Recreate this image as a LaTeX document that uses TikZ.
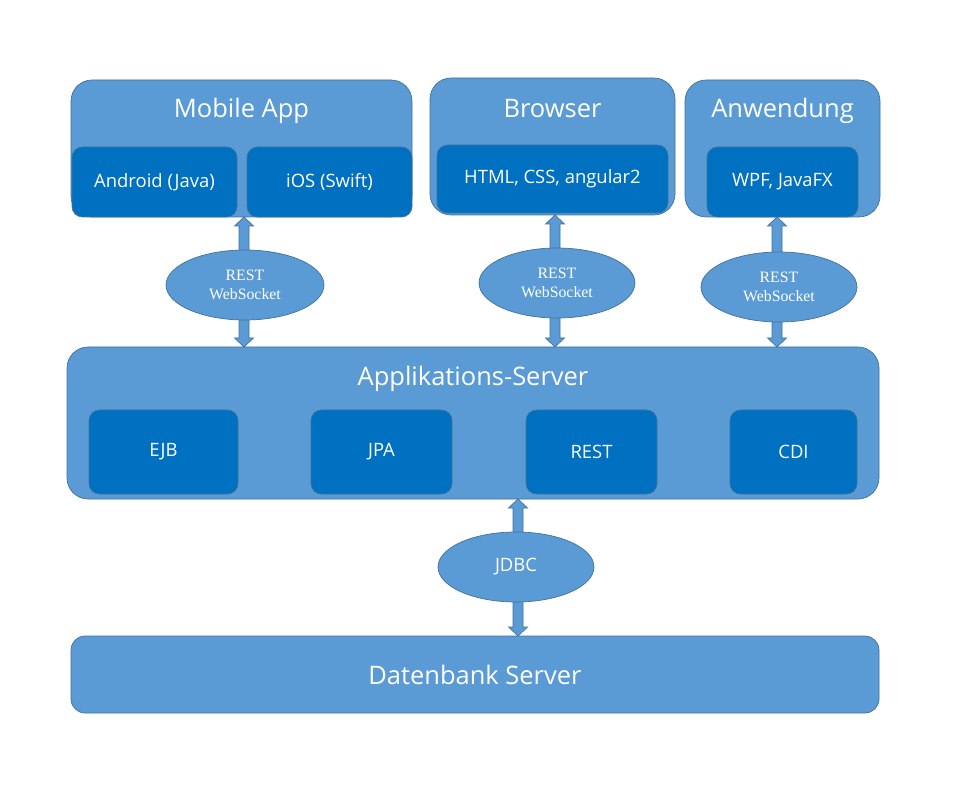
\documentclass[tikz,border=0pt]{standalone}
\usepackage{fontspec}
\setmainfont{Open Sans}
\newfontfamily\ellfont{Liberation Serif}
\usetikzlibrary{positioning}
\definecolor{light}{HTML}{5B9BD5}
\definecolor{dark}{HTML}{0070C0}
\definecolor{edge}{HTML}{41719C}
\tikzset{
	outer/.style={draw=edge, fill=light, rounded corners=12pt, inner sep=0pt},
	inner/.style={draw=edge, fill=dark, rounded corners=6pt, inner sep=0pt, text=white, font=\fontsize{10.5}{12}\selectfont},
	title/.style={text=white, font=\fontsize{14.5}{16}\selectfont},
	proto/.style={ellipse, draw=edge, fill=light, text=white, align=center, inner sep=0pt, font=\ellfont\fontsize{9}{10.5}\selectfont},
	fat/.style={fill=light, draw=edge}
}
% double arrow from (#1) up to (#2), both coordinates on one vertical
\newcommand{\fatarrow}[2]{
	\fill[fat] ($(#1)$) -- ++(-9.5,-9) -- ++(4.5,0) |- ($(#2)+(-5,9)$) -- ++(-4.5,0) -- (#2) -- ++(9.5,9) -- ++(-4.5,0) |- ($(#1)+(5,-9)$) -- ++(4.5,0) -- cycle;
}
\usetikzlibrary{calc,shapes.geometric}
\begin{document}
\begin{tikzpicture}[x=0.02cm, y=-0.02cm]
	\useasboundingbox (0,0) rectangle (960,800);
	%Clients
	\node[outer, minimum width=341*0.02cm, minimum height=137*0.02cm] (mobile) at (241.5,148.5) {};
	\node[title] at (241.5,111) {Mobile App};
	\node[inner, minimum width=165*0.02cm, minimum height=70*0.02cm] (android) at (154.5,182) {Android (Java)};
	\node[inner, minimum width=165*0.02cm, minimum height=70*0.02cm] (ios) at (329.5,182) {iOS (Swift)};
	\node[outer, minimum width=245*0.02cm, minimum height=137*0.02cm] (browser) at (552.5,146.5) {};
	\node[title] at (552.5,109) {Browser};
	\node[inner, minimum width=231*0.02cm, minimum height=68*0.02cm] (html) at (552.5,179) {HTML, CSS, angular2};
	\node[outer, minimum width=195*0.02cm, minimum height=137*0.02cm] (anwendung) at (782.5,148.5) {};
	\node[title] at (782.5,111) {Anwendung};
	\node[inner, minimum width=151*0.02cm, minimum height=70*0.02cm] (wpf) at (782.5,182) {WPF, JavaFX};
	%Server
	\node[outer, minimum width=812*0.02cm, minimum height=152*0.02cm] (server) at (473,423) {};
	\node[title] at (473,379) {Applikations-Server};
	\node[inner, minimum width=149*0.02cm, minimum height=84*0.02cm] (ejb) at (163.5,452) {EJB};
	\node[inner, minimum width=141*0.02cm, minimum height=84*0.02cm] (jpa) at (381.5,452) {JPA};
	\node[inner, minimum width=131*0.02cm, minimum height=84*0.02cm] (rest) at (591.5,452) {REST};
	\node[inner, minimum width=127*0.02cm, minimum height=84*0.02cm] (cdi) at (793.5,452) {CDI};
	\node[outer, rounded corners=8pt, minimum width=808*0.02cm, minimum height=77*0.02cm, title] (db) at (475,674.5) {Datenbank Server};
	%Connectors
	\coordinate (a1) at (244,217);  \coordinate (b1) at (244,347);
	\coordinate (a2) at (555,215);  \coordinate (b2) at (555,347);
	\coordinate (a3) at (777,217);  \coordinate (b3) at (777,347);
	\coordinate (a4) at (518,499);  \coordinate (b4) at (518,636);
	\fatarrow{b1}{a1}
	\fatarrow{b2}{a2}
	\fatarrow{b3}{a3}
	\fatarrow{b4}{a4}
	\node[proto, minimum width=158*0.02cm, minimum height=70*0.02cm] (p1) at (245,285) {REST\\WebSocket};
	\node[proto, minimum width=156*0.02cm, minimum height=70*0.02cm] (p2) at (557,283) {REST\\WebSocket};
	\node[proto, minimum width=156*0.02cm, minimum height=70*0.02cm] (p3) at (779,287) {REST\\WebSocket};
	\node[proto, font=\fontsize{10.5}{12}\selectfont, minimum width=156*0.02cm, minimum height=70*0.02cm] (p4) at (516,567) {JDBC};
\end{tikzpicture}
\end{document}
